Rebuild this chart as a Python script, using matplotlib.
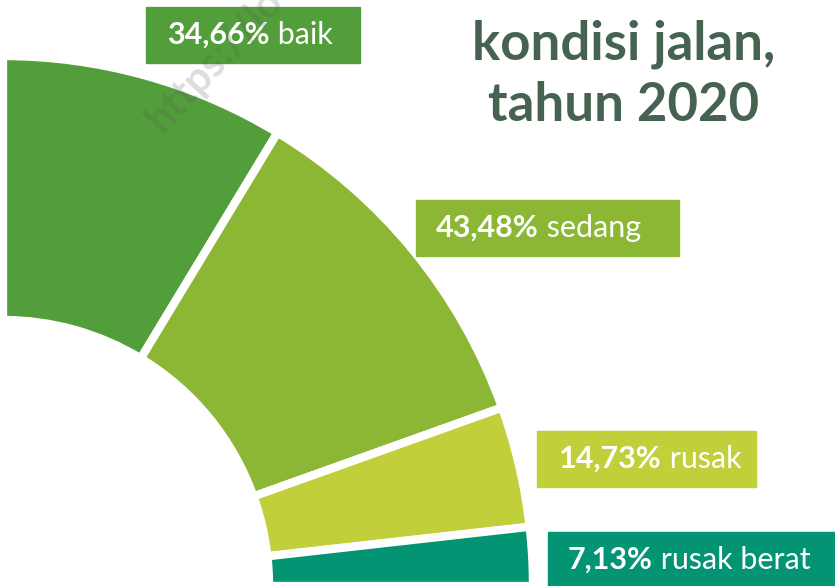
import numpy as np
import matplotlib.pyplot as plt
from matplotlib.patches import Rectangle

# ── Data ────────────────────────────────────────────────
kondisi = ['baik', 'sedang', 'rusak', 'rusak berat']
persen = [34.66, 43.48, 14.73, 7.13]
persen_label = ['34,66%', '43,48%', '14,73%', '7,13%']
warna = ['#529e3a', '#8bb734', '#c0cf3a', '#039474']

judul = 'kondisi jalan,\ntahun 2020'

FONT = 'Lato'
W, H = 835, 586

fig = plt.figure(figsize=(W / 100, H / 100), dpi=100)
ax = fig.add_axes([0, 0, 1, 1])

# ── Quarter donut (values take 90 degrees in total) ─────
fracs = np.array(persen) / 100 / 4
ax.pie(fracs, colors=warna, startangle=90, counterclock=False,
       normalize=False, radius=530, center=(3, 0),
       wedgeprops=dict(width=264, edgecolor='white', linewidth=6))

ax.set_xlim(0, W)
ax.set_ylim(0, H)
ax.set_aspect('auto')
ax.set_axis_off()

# ── Label boxes (pixel coords, y from top) ──────────────
boxes = [(146, 7, 214, 56), (416, 200, 263, 56),
         (537, 431, 219, 56), (548, 532, 300, 56)]
text_x = [167, 436, 559, 568]

for i in range(len(kondisi)):
    bx, by, bw, bh = boxes[i]
    ax.add_patch(Rectangle((bx, H - by - bh), bw, bh, color=warna[i],
                           zorder=5, clip_on=False))
    ty = H - by - bh / 2
    t1 = ax.text(text_x[i], ty, persen_label[i], color='white', fontsize=22,
                 fontweight='bold', family=FONT, va='center', ha='left',
                 zorder=6)
    ax.annotate(' ' + kondisi[i], xy=(1, 0), xycoords=t1, va='bottom',
                ha='left', color='white', fontsize=22, family=FONT,
                zorder=6)

# ── Title ───────────────────────────────────────────────
ax.text(624, H - 75, judul, color='#466352', fontsize=38,
        fontweight='bold', family=FONT, ha='center', va='center',
        linespacing=1.3)

# ── Watermark ───────────────────────────────────────────
ax.text(162, H - 134, 'https://lo', color='#555555', alpha=0.2, fontsize=30,
        fontweight='bold', family=FONT, rotation=47, ha='left',
        va='baseline', rotation_mode='anchor', zorder=7)

plt.savefig('out.png', dpi=100)
